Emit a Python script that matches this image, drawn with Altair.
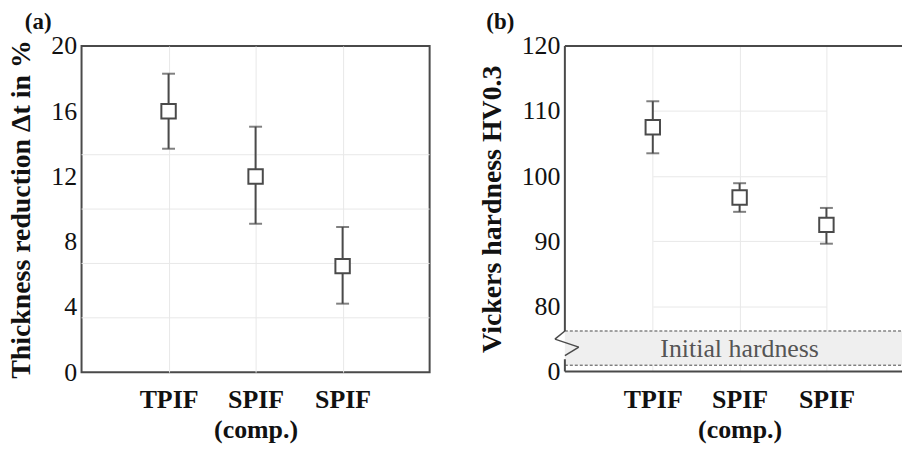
import altair as alt
import pandas as pd

# ---------------- data ----------------
categories = ["TPIF", "SPIF (comp.)", "SPIF"]
thick_mean = [16.0, 12.0, 6.5]
thick_low = [13.7, 9.1, 4.2]
thick_high = [18.3, 15.05, 8.9]
hard_mean = [107.5, 96.7, 92.5]
hard_low = [103.5, 94.5, 89.6]
hard_high = [111.5, 98.9, 95.1]
thick_ticks = [0, 4, 8, 12, 16, 20]
thick_grid = [10 / 3, 20 / 3, 10, 40 / 3]
hard_ticks = [0, 80, 90, 100, 110, 120]
band_label = ["Initial hardness"]

INK = "#4a4a4a"
GRID = "#e8e8e8"
FONT = "Liberation Serif"

df_a = pd.DataFrame({"cat": categories, "mean": thick_mean, "lo": thick_low, "hi": thick_high})
df_b = pd.DataFrame({"cat": categories, "mean": hard_mean, "lo": hard_low, "hi": hard_high})
one = pd.DataFrame({"k": [0]})

WA, HA = 350, 328
WB, HB = 339, 327.3

label_expr = "datum.value == 'SPIF (comp.)' ? ['SPIF', '(comp.)'] : datum.value"


def x_axis():
    return alt.Axis(title=None, labelExpr=label_expr, labelAngle=0, labelFont=FONT,
                    labelFontWeight="bold", labelFontSize=26, labelColor="#111",
                    labelPadding=15, labelLineHeight=30, ticks=False,
                    domain=False, grid=True, gridColor=GRID, gridWidth=1)


def x_enc(rng):
    return alt.X("cat:N", sort=categories,
                 scale=alt.Scale(type="point", range=rng, padding=0),
                 axis=x_axis())


def y_axis(title, values, grid):
    return alt.Axis(title=title, values=values, grid=grid, gridColor=GRID, gridWidth=1,
                    ticks=False, domain=False,
                    labelFont=FONT, labelFontSize=26, labelColor="#111", labelPadding=5,
                    titleFont=FONT, titleFontSize=28, titleFontWeight="bold",
                    titleColor="#111", titlePadding=15)


# ---------------- panel (a) ----------------
ya_scale = alt.Scale(domain=[0, 20], nice=False, zero=False)
ya_axis = y_axis("Thickness reduction Δt in %", thick_ticks, False)
xa = x_enc([87.5, 262.5])

grid_a = alt.Chart(pd.DataFrame({"g": thick_grid})).mark_rule(color=GRID, strokeWidth=1).encode(
    y=alt.Y("g:Q", scale=ya_scale, axis=ya_axis))
bars_a = alt.Chart(df_a).mark_rule(color=INK, strokeWidth=2).encode(
    x=xa, y=alt.Y("lo:Q", scale=ya_scale, axis=ya_axis), y2="hi:Q")
cap_lo_a = alt.Chart(df_a).mark_tick(color=INK, size=13, thickness=2).encode(
    x=xa, y=alt.Y("lo:Q", scale=ya_scale, axis=ya_axis))
cap_hi_a = alt.Chart(df_a).mark_tick(color=INK, size=13, thickness=2).encode(
    x=xa, y=alt.Y("hi:Q", scale=ya_scale, axis=ya_axis))
pts_a = alt.Chart(df_a).mark_point(shape="square", filled=True, fill="white", stroke=INK,
                                   strokeWidth=2, size=210, opacity=1).encode(
    x=xa, y=alt.Y("mean:Q", scale=ya_scale, axis=ya_axis))
lab_a = alt.Chart(one).mark_text(text="(a)", font=FONT, fontSize=23, fontWeight="bold",
                                 color="#111", align="left", baseline="alphabetic").encode(
    x=alt.value(-57), y=alt.value(-17))

panel_a = alt.layer(grid_a, bars_a, cap_lo_a, cap_hi_a, pts_a, lab_a).properties(
    width=WA, height=HA, view=alt.ViewBackground(stroke=INK, strokeWidth=2))

# ---------------- panel (b) ----------------
yb_scale = alt.Scale(domain=[0, 75, 120], range=[HB, 294.3, 0])
yb_axis = y_axis("Vickers hardness HV0.3", hard_ticks, True)
xb = x_enc([88.4, 263])

band_top, band_bot = 286.6, 321.0

band = alt.Chart(one).mark_rect(fill="#efefef").encode(
    x=alt.value(0), x2=alt.value(WB), y=alt.value(band_top), y2=alt.value(band_bot))
dash_top = alt.Chart(one).mark_rule(color=INK, strokeWidth=1, strokeDash=[3, 2]).encode(
    x=alt.value(0), x2=alt.value(WB), y=alt.value(band_top))
dash_bot = alt.Chart(one).mark_rule(color=INK, strokeWidth=1, strokeDash=[3, 2]).encode(
    x=alt.value(0), x2=alt.value(WB), y=alt.value(band_bot))
band_txt = alt.Chart(pd.DataFrame({"t": band_label})).mark_text(
    font=FONT, fontSize=26, color="#555", align="center", baseline="alphabetic").encode(
    text="t:N", x=alt.value(175.7), y=alt.value(313))

frame_top = alt.Chart(one).mark_rule(color=INK, strokeWidth=2).encode(
    x=alt.value(0), x2=alt.value(WB), y=alt.value(0))
frame_bot = alt.Chart(one).mark_rule(color=INK, strokeWidth=2).encode(
    x=alt.value(0), x2=alt.value(WB), y=alt.value(HB))
left_up = alt.Chart(one).mark_rule(color=INK, strokeWidth=2).encode(
    x=alt.value(0), y=alt.value(0), y2=alt.value(band_top))
left_dn = alt.Chart(one).mark_rule(color=INK, strokeWidth=2).encode(
    x=alt.value(0), y=alt.value(315), y2=alt.value(HB))
zz1 = alt.Chart(one).mark_rule(color=INK, strokeWidth=1.5).encode(
    x=alt.value(0), y=alt.value(band_top), x2=alt.value(-10), y2=alt.value(294.8))
zz2 = alt.Chart(one).mark_rule(color=INK, strokeWidth=1.5).encode(
    x=alt.value(-10), y=alt.value(294.8), x2=alt.value(14), y2=alt.value(302.8))
zz3 = alt.Chart(one).mark_rule(color=INK, strokeWidth=1.5).encode(
    x=alt.value(14), y=alt.value(302.8), x2=alt.value(0), y2=alt.value(311.3))

bars_b = alt.Chart(df_b).mark_rule(color=INK, strokeWidth=2).encode(
    x=xb, y=alt.Y("lo:Q", scale=yb_scale, axis=yb_axis), y2="hi:Q")
cap_lo_b = alt.Chart(df_b).mark_tick(color=INK, size=13, thickness=2).encode(
    x=xb, y=alt.Y("lo:Q", scale=yb_scale, axis=yb_axis))
cap_hi_b = alt.Chart(df_b).mark_tick(color=INK, size=13, thickness=2).encode(
    x=xb, y=alt.Y("hi:Q", scale=yb_scale, axis=yb_axis))
pts_b = alt.Chart(df_b).mark_point(shape="square", filled=True, fill="white", stroke=INK,
                                   strokeWidth=2, size=210, opacity=1).encode(
    x=xb, y=alt.Y("mean:Q", scale=yb_scale, axis=yb_axis))
lab_b = alt.Chart(one).mark_text(text="(b)", font=FONT, fontSize=23, fontWeight="bold",
                                 color="#111", align="left", baseline="alphabetic").encode(
    x=alt.value(-79), y=alt.value(-17))

panel_b = alt.layer(bars_b, band, dash_top, dash_bot, band_txt, frame_top, frame_bot,
                    left_up, left_dn, zz1, zz2, zz3, cap_lo_b, cap_hi_b, pts_b, lab_b).properties(
    width=WB, height=HB, view=alt.ViewBackground(strokeWidth=0))

chart = alt.hconcat(panel_a, panel_b, spacing=47).properties(
    padding={"left": 7, "top": 9, "right": 0, "bottom": 0},
    background="white",
).configure_view(strokeWidth=0)

chart.save("out.html", embed_options={"renderer": "svg", "actions": False})
